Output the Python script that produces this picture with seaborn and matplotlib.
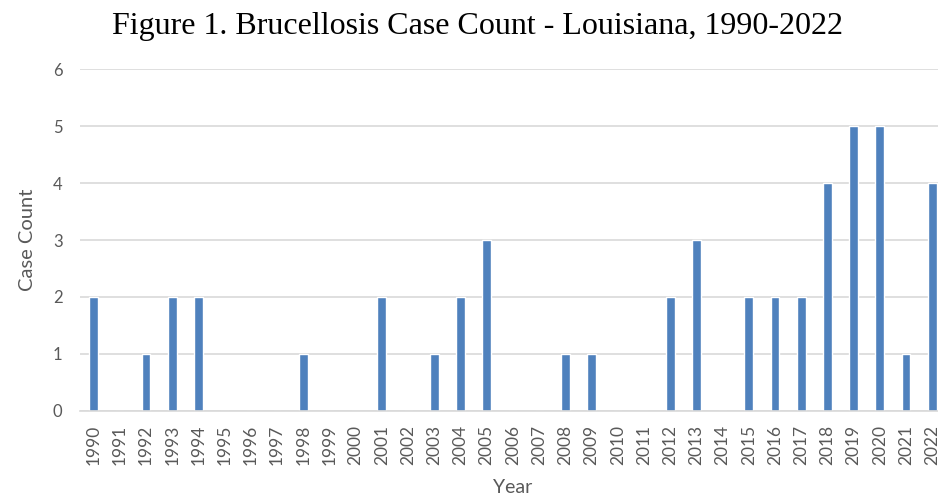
import matplotlib
matplotlib.use("Agg")
import matplotlib.pyplot as plt
import seaborn as sns
import pandas as pd

# Datos
anios = [str(a) for a in range(1990, 2023)]
casos = [2, 0, 1, 2, 2, 0, 0, 0, 1, 0, 0, 2, 0, 1, 2, 3, 0, 0, 1, 1, 0, 0,
         2, 3, 0, 2, 2, 2, 4, 5, 5, 1, 4]

titulo = "Figure 1. Brucellosis Case Count - Louisiana, 1990-2022"
etiqueta_x = "Year"
etiqueta_y = "Case Count"

tabla = pd.DataFrame({"anio": anios, "casos": casos})

sns.set_theme(style="white")
plt.rcParams["font.family"] = ["Lato", "DejaVu Sans"]

gris_texto = "#595959"
gris_linea = "#d9d9d9"
azul = "#4f81bd"

fig = plt.figure(figsize=(9.38, 4.96), dpi=100)
ax = fig.add_axes([0.0858, 0.172, 0.922, 0.688])

sns.barplot(data=tabla, x="anio", y="casos", color=azul, width=0.34,
            saturation=1, ax=ax)

ax.set_ylim(0, 6)
ax.set_xlim(-0.5, len(anios) - 0.5)
ax.set_yticks(range(0, 7))
ax.yaxis.grid(True, color=gris_linea, linewidth=1.2)
ax.set_axisbelow(True)
for lado in ["top", "right", "left"]:
    ax.spines[lado].set_visible(False)
ax.spines["bottom"].set_color(gris_linea)
ax.spines["bottom"].set_linewidth(1.2)

ax.tick_params(axis="x", rotation=90, labelsize=12.5, colors=gris_texto, length=0, pad=10)
ax.tick_params(axis="y", labelsize=12, colors=gris_texto, length=0, pad=13)

ax.set_xlabel(etiqueta_x, fontsize=14, color=gris_texto, labelpad=10)
ax.set_ylabel(etiqueta_y, fontsize=14.5, color=gris_texto, labelpad=12)

fig.text(0.509, 0.946, titulo, ha="center", va="center", fontsize=23,
         family=["Liberation Serif"], color="black")

plt.savefig("out.png", dpi=100)
plt.close()
